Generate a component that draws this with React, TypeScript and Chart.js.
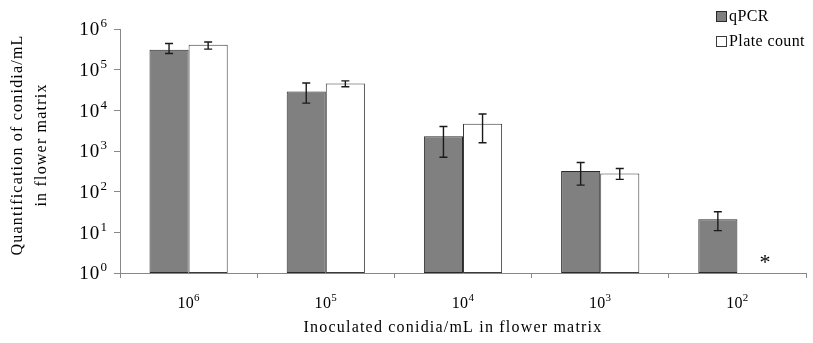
import React, { useEffect, useRef } from "react";
import { Chart, registerables } from "chart.js";

Chart.register(...registerables);

const categories = ["10⁶", "10⁵", "10⁴", "10³", "10²"];
const seriesNames = ["qPCR", "Plate count"];
const qpcrValues = [310000, 29000, 2300, 320, 21];
const qpcrLow = [250000, 15000, 700, 145, 11];
const qpcrHigh = [440000, 47000, 4000, 520, 32];
const plateValues: (number | null)[] = [410000, 46000, 4700, 280, null];
const plateLow: (number | null)[] = [320000, 38000, 1600, 200, null];
const plateHigh: (number | null)[] = [480000, 53000, 8100, 370, null];
const yTickValues = [1, 10, 100, 1000, 10000, 100000, 1000000];
const yTickLabels = ["10⁰", "10¹", "10²", "10³", "10⁴", "10⁵", "10⁶"];
const xTitle = "Inoculated conidia/mL in flower matrix";
const yTitle = ["Quantification of conidia/mL", "in flower matrix"];
const notDetectedMark = "*";

const FONT = "'Liberation Serif', 'Times New Roman', serif";
const QPCR_FILL = "#808080";
const QPCR_BORDER = "#2a2a2a";
const PLATE_FILL = "#ffffff";
const PLATE_BORDER = "#3a3a3a";
const AXIS = "#888888";
const TRANSPARENT = "rgba(0,0,0,0)";

const SUP = "⁰¹²³⁴⁵⁶⁷⁸⁹";
function splitPower(label: string): [string, string] {
  let base = "";
  let exp = "";
  for (const ch of label) {
    const k = SUP.indexOf(ch);
    if (k >= 0) exp += String(k);
    else base += ch;
  }
  return [base, exp];
}

function drawPower(
  ctx: CanvasRenderingContext2D,
  label: string,
  x: number,
  y: number,
  align: "right" | "center",
  baseSize: number,
  expSize: number,
  spacing: number,
  raise: number
) {
  const [base, exp] = splitPower(label);
  ctx.save();
  ctx.fillStyle = "#000";
  ctx.textAlign = "left";
  ctx.textBaseline = "alphabetic";
  (ctx as any).letterSpacing = `${spacing}px`;
  ctx.font = `${baseSize}px ${FONT}`;
  const wb = ctx.measureText(base).width;
  ctx.font = `${expSize}px ${FONT}`;
  const we = ctx.measureText(exp).width;
  const total = wb + we;
  const start = align === "right" ? x - total : x - total / 2;
  const baseline = y + baseSize * 0.34;
  ctx.font = `${baseSize}px ${FONT}`;
  ctx.fillText(base, start, baseline);
  ctx.font = `${expSize}px ${FONT}`;
  ctx.fillText(exp, start + wb, baseline - raise);
  ctx.restore();
}

const textPlugin = {
  id: "customText",
  afterDraw(chart: any) {
    const ctx = chart.ctx;
    const yScale = chart.scales.y;
    const xScale = chart.scales.x;
    yTickValues.forEach((v, i) => {
      drawPower(ctx, yTickLabels[i], yScale.right - 12, yScale.getPixelForValue(v), "right", 19, 13, 1.1, 8);
    });
    categories.forEach((c, i) => {
      drawPower(ctx, c, xScale.getPixelForValue(i), xScale.top + 30, "center", 16, 11, 0.3, 7);
    });
    ctx.save();
    ctx.fillStyle = "#000";
    (ctx as any).letterSpacing = "1.2px";
    ctx.font = `16px ${FONT}`;
    ctx.textAlign = "center";
    ctx.textBaseline = "middle";
    const area = chart.chartArea;
    ctx.fillText(xTitle, (area.left + area.right) / 2 - 10, 328);
    ctx.translate(0, (area.top + area.bottom) / 2 - 6);
    ctx.rotate(-Math.PI / 2);
    ctx.fillText(yTitle[0], 0, 18);
    ctx.fillText(yTitle[1], 0, 42);
    ctx.restore();
  },
};

const errorBarPlugin = {
  id: "errorBars",
  afterDatasetsDraw(chart: any) {
    const ctx = chart.ctx;
    const yScale = chart.scales.y;
    const sets: [(number | null)[], (number | null)[]][] = [
      [qpcrLow, qpcrHigh],
      [plateLow, plateHigh],
    ];
    ctx.save();
    ctx.strokeStyle = "#1a1a1a";
    ctx.lineWidth = 1.4;
    sets.forEach(([lo, hi], di) => {
      const meta = chart.getDatasetMeta(di);
      meta.data.forEach((bar: any, i: number) => {
        const l = lo[i];
        const h = hi[i];
        if (l == null || h == null) return;
        const x = bar.x;
        const y1 = yScale.getPixelForValue(l);
        const y2 = yScale.getPixelForValue(h);
        ctx.beginPath();
        ctx.moveTo(x, y1);
        ctx.lineTo(x, y2);
        ctx.moveTo(x - 4, y1);
        ctx.lineTo(x + 4, y1);
        ctx.moveTo(x - 4, y2);
        ctx.lineTo(x + 4, y2);
        ctx.stroke();
      });
    });
    const meta1 = chart.getDatasetMeta(1);
    ctx.fillStyle = "#000";
    ctx.font = `22px ${FONT}`;
    ctx.textAlign = "center";
    ctx.textBaseline = "alphabetic";
    plateValues.forEach((v, i) => {
      if (v != null) return;
      const bar = meta1.data[i];
      ctx.fillText(notDetectedMark, bar.x + 8, yScale.bottom - 4);
    });
    ctx.restore();
  },
};

const legendPlugin = {
  id: "customLegend",
  afterDraw(chart: any) {
    const ctx = chart.ctx;
    const items = [
      { label: seriesNames[0], fill: QPCR_FILL, stroke: QPCR_BORDER, y: 16 },
      { label: seriesNames[1], fill: PLATE_FILL, stroke: PLATE_BORDER, y: 41 },
    ];
    ctx.save();
    (ctx as any).letterSpacing = "0.4px";
    ctx.font = `16px ${FONT}`;
    ctx.textBaseline = "middle";
    ctx.textAlign = "left";
    items.forEach((it) => {
      ctx.fillStyle = it.fill;
      ctx.fillRect(716.5, it.y - 4.5, 10, 10);
      ctx.strokeStyle = it.stroke;
      ctx.lineWidth = 1;
      ctx.strokeRect(716.5, it.y - 4.5, 10, 10);
      ctx.fillStyle = "#000";
      ctx.fillText(it.label, 729, it.y + 1);
    });
    ctx.restore();
  },
};

export default function App() {
  const ref = useRef<HTMLCanvasElement | null>(null);
  useEffect(() => {
    if (!ref.current) return;
    const chart = new Chart(ref.current, {
      type: "bar",
      data: {
        labels: categories,
        datasets: [
          {
            label: seriesNames[0],
            data: qpcrValues,
            backgroundColor: QPCR_FILL,
            borderColor: QPCR_BORDER,
            borderWidth: 1,
            borderSkipped: false,
            barPercentage: 1,
            categoryPercentage: 0.57,
          },
          {
            label: seriesNames[1],
            data: plateValues as any,
            backgroundColor: PLATE_FILL,
            borderColor: PLATE_BORDER,
            borderWidth: 1,
            borderSkipped: false,
            barPercentage: 1,
            categoryPercentage: 0.57,
          },
        ],
      },
      options: {
        animation: false,
        responsive: false,
        maintainAspectRatio: false,
        layout: { padding: { top: 29, right: 7, bottom: 0, left: 0 } },
        plugins: {
          legend: { display: false },
          tooltip: { enabled: false },
        },
        scales: {
          x: {
            grid: {
              offset: true,
              drawOnChartArea: false,
              tickLength: 5,
              color: AXIS,
            },
            border: { color: AXIS, width: 1 },
            ticks: {
              font: { family: FONT, size: 16 },
              color: TRANSPARENT,
              padding: 14,
              maxRotation: 0,
            },
            title: { display: false, text: xTitle },
            afterFit: (s: any) => {
              s.height = 70;
            },
          },
          y: {
            type: "logarithmic",
            min: 1,
            max: 1000000,
            afterBuildTicks: (s: any) => {
              s.ticks = yTickValues.map((v) => ({ value: v }));
            },
            ticks: {
              font: { family: FONT, size: 16 },
              color: TRANSPARENT,
              padding: 7,
              callback: (_v: any, i: number) => yTickLabels[i],
            },
            grid: {
              drawOnChartArea: false,
              tickLength: 6,
              color: AXIS,
            },
            border: { color: AXIS, width: 1 },
            title: { display: false, text: yTitle },
            afterFit: (s: any) => {
              s.width = 120;
            },
          },
        },
      },
      plugins: [errorBarPlugin, textPlugin, legendPlugin],
    });
    return () => chart.destroy();
  }, []);
  return (
    <div style={{ position: "fixed", left: 0, top: 0, width: 813, height: 343, background: "#fff" }}>
      <canvas ref={ref} width={813} height={343} style={{ width: 813, height: 343, display: "block" }} />
    </div>
  );
}
